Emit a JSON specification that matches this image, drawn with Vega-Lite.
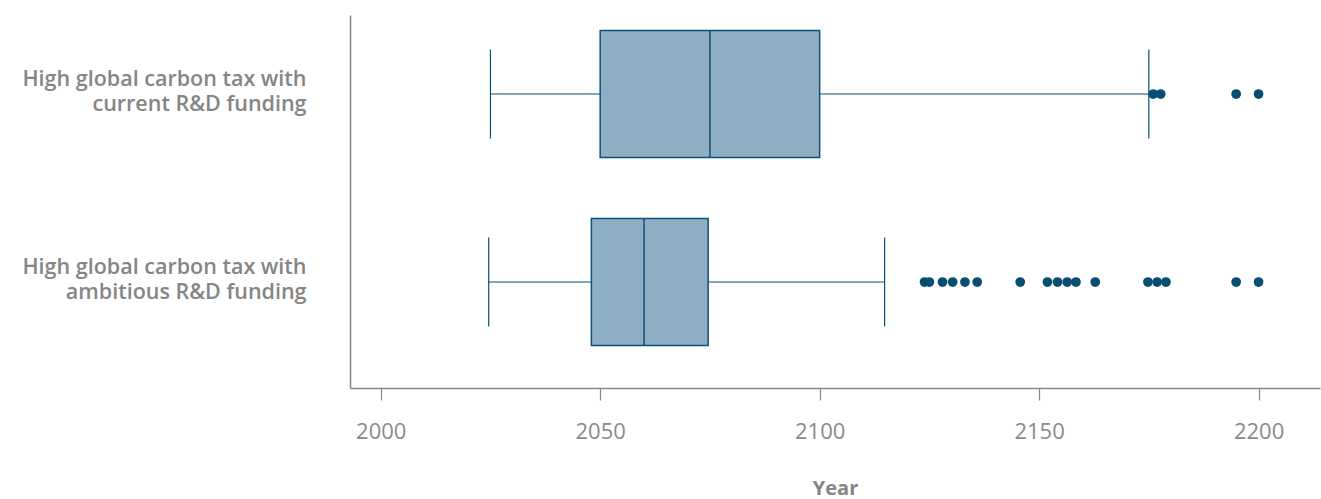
{
  "$schema": "https://vega.github.io/schema/vega-lite/v6.json",
  "width": 970,
  "height": 373,
  "autosize": {"type": "none"},
  "padding": {"left": 350, "top": 15, "right": 1, "bottom": 111},
  "background": "white",
  "config": {
    "view": {"stroke": null},
    "font": "Open Sans"
  },
  "datasets": {
    "boxes": [
      {"scenario": "High global carbon tax with current R&D funding", "lower": 2025, "q1": 2050, "median": 2075, "q3": 2100, "upper": 2175},
      {"scenario": "High global carbon tax with ambitious R&D funding", "lower": 2024.6, "q1": 2048, "median": 2060, "q3": 2074.6, "upper": 2114.8}
    ],
    "outliers": [
      {"scenario": "High global carbon tax with current R&D funding", "year": 2176},
      {"scenario": "High global carbon tax with current R&D funding", "year": 2177.7},
      {"scenario": "High global carbon tax with current R&D funding", "year": 2194.9},
      {"scenario": "High global carbon tax with current R&D funding", "year": 2200},
      {"scenario": "High global carbon tax with ambitious R&D funding", "year": 2123.9},
      {"scenario": "High global carbon tax with ambitious R&D funding", "year": 2125},
      {"scenario": "High global carbon tax with ambitious R&D funding", "year": 2128},
      {"scenario": "High global carbon tax with ambitious R&D funding", "year": 2130.3},
      {"scenario": "High global carbon tax with ambitious R&D funding", "year": 2133.1},
      {"scenario": "High global carbon tax with ambitious R&D funding", "year": 2135.9},
      {"scenario": "High global carbon tax with ambitious R&D funding", "year": 2145.7},
      {"scenario": "High global carbon tax with ambitious R&D funding", "year": 2151.9},
      {"scenario": "High global carbon tax with ambitious R&D funding", "year": 2154.2},
      {"scenario": "High global carbon tax with ambitious R&D funding", "year": 2156.4},
      {"scenario": "High global carbon tax with ambitious R&D funding", "year": 2158.4},
      {"scenario": "High global carbon tax with ambitious R&D funding", "year": 2162.8},
      {"scenario": "High global carbon tax with ambitious R&D funding", "year": 2174.8},
      {"scenario": "High global carbon tax with ambitious R&D funding", "year": 2176.9},
      {"scenario": "High global carbon tax with ambitious R&D funding", "year": 2178.9},
      {"scenario": "High global carbon tax with ambitious R&D funding", "year": 2194.9},
      {"scenario": "High global carbon tax with ambitious R&D funding", "year": 2200}
    ]
  },
  "encoding": {
    "y": {
      "field": "scenario",
      "type": "nominal",
      "sort": ["High global carbon tax with current R&D funding", "High global carbon tax with ambitious R&D funding"],
      "scale": {"paddingInner": 0.2, "paddingOuter": 0.092, "align": 0.11},
      "axis": {
        "title": null,
        "ticks": false,
        "domainColor": "#888888",
        "domainWidth": 1.5,
        "labelPadding": 44,
        "labelFont": "Open Sans",
        "labelFontWeight": 600,
        "labelFontSize": 21.5,
        "labelColor": "#858585",
        "labelAlign": "right",
        "labelBaseline": "middle",
        "labelLineHeight": 25,
        "labelOffset": -14,
        "labelLimit": 400,
        "labelExpr": "split(replace(datum.value, 'with ', 'with|'), '|')"
      }
    }
  },
  "layer": [
    {
      "data": {"name": "boxes"},
      "mark": {"type": "rule", "color": "#0b4f78", "strokeWidth": 1.2},
      "encoding": {
        "x": {
          "field": "lower",
          "type": "quantitative",
          "scale": {"domain": [1993, 2214], "nice": false, "zero": false},
          "axis": {
            "title": "Year",
            "values": [2000, 2050, 2100, 2150, 2200],
            "format": "d",
            "grid": false,
            "domainColor": "#888888",
            "domainWidth": 1.5,
            "tickColor": "#888888",
            "tickSize": 12,
            "tickWidth": 1.2,
            "labelPadding": 21,
            "labelFont": "Open Sans",
            "labelFontSize": 22,
            "labelColor": "#8a8a8a",
            "titleFont": "Open Sans",
            "titleFontWeight": "bold",
            "titleFontSize": 20,
            "titleColor": "#858585",
            "titlePadding": 36
          }
        },
        "x2": {"field": "upper"}
      }
    },
    {
      "data": {"name": "boxes"},
      "mark": {"type": "bar", "size": 127, "fill": "#8eafc3", "stroke": "#0b4f78", "strokeWidth": 1.5},
      "encoding": {
        "x": {"field": "q1", "type": "quantitative"},
        "x2": {"field": "q3"}
      }
    },
    {
      "data": {"name": "boxes"},
      "mark": {"type": "tick", "size": 127, "thickness": 1.5, "color": "#0b4f78", "opacity": 1},
      "encoding": {
        "x": {"field": "median", "type": "quantitative"}
      }
    },
    {
      "data": {"name": "boxes"},
      "mark": {"type": "tick", "size": 89, "thickness": 1.2, "color": "#0b4f78", "opacity": 1},
      "encoding": {
        "x": {"field": "lower", "type": "quantitative"}
      }
    },
    {
      "data": {"name": "boxes"},
      "mark": {"type": "tick", "size": 89, "thickness": 1.2, "color": "#0b4f78", "opacity": 1},
      "encoding": {
        "x": {"field": "upper", "type": "quantitative"}
      }
    },
    {
      "data": {"name": "outliers"},
      "mark": {"type": "circle", "size": 95, "color": "#0a4d73", "opacity": 1},
      "encoding": {
        "x": {"field": "year", "type": "quantitative"}
      }
    }
  ]
}
